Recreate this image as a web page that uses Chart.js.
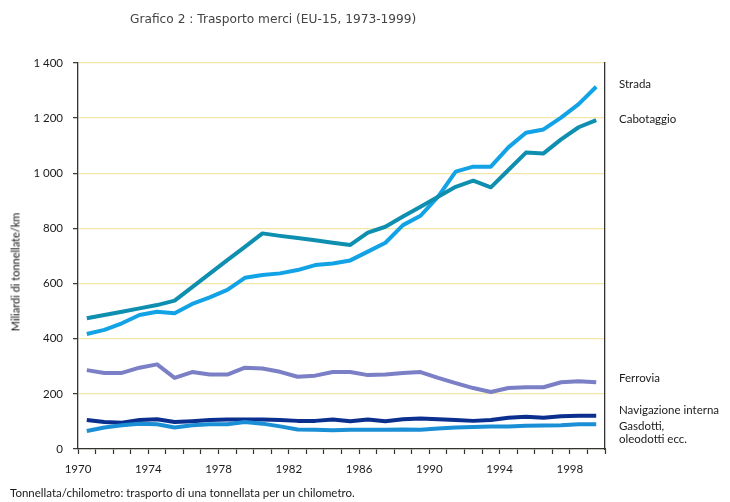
<!DOCTYPE html>
<html>
<head>
<meta charset="utf-8">
<script src="https://cdn.jsdelivr.net/npm/chart.js@4/dist/chart.umd.min.js"></script>
<style>
  html, body { margin: 0; padding: 0; background: #fff; }
  #wrap { position: relative; width: 730px; height: 502px; overflow: hidden; }
  #c { position: absolute; left: 0; top: 0; }
  .t { position: absolute; white-space: nowrap; color: #1a1a1a; font-family: Lato, "Liberation Sans", sans-serif; font-size: 11.5px; line-height: 13px; }
  #title { left: 130px; top: 13px; font-family: "DejaVu Sans", sans-serif; font-size: 12.2px; color: #444; }
  #ytitle { left: 15px; top: 272px; transform: translate(-50%, -50%) rotate(-90deg); font-size: 11px; color: #111; }
  #foot { left: 10px; top: 486px; }
</style>
</head>
<body>
<div id="wrap">
  <canvas id="c" width="730" height="502"></canvas>
  <div class="t" id="title">Grafico 2 : Trasporto merci (EU-15, 1973-1999)</div>
  <div class="t" id="ytitle">Miliardi di tonnellate/km</div>
  <div class="t" id="foot">Tonnellata/chilometro: trasporto di una tonnellata per un chilometro.</div>
  <div class="t" style="left:619px; top:77px;">Strada</div>
  <div class="t" style="left:619px; top:112px;">Cabotaggio</div>
  <div class="t" style="left:619px; top:371px;">Ferrovia</div>
  <div class="t" style="left:619px; top:403px;">Navigazione interna</div>
  <div class="t" style="left:619px; top:419px;">Gasdotti,<br>oleodotti ecc.</div>
</div>
<script>
const years = [1970,1971,1972,1973,1974,1975,1976,1977,1978,1979,1980,1981,1982,1983,1984,1985,1986,1987,1988,1989,1990,1991,1992,1993,1994,1995,1996,1997,1998,1999];
const strada = [417,432,456,486,498,492,526,550,577,621,631,637,649,667,673,684,716,748,812,846,915,1006,1024,1024,1094,1147,1159,1202,1251,1314];
const cabotaggio = [474,486,498,510,522,538,587,636,685,733,782,773,765,757,748,740,785,806,843,879,915,951,973,949,1012,1075,1072,1123,1167,1193];
const ferrovia = [286,276,276,295,307,258,279,270,270,295,292,280,262,266,279,279,268,270,276,279,258,239,221,207,221,224,224,242,246,242];
const navigazione = [105,98,95,105,108,98,101,105,107,107,107,105,102,102,107,101,107,101,108,111,108,105,102,105,113,117,113,119,121,121];
const gasdotti = [65,78,86,92,90,78,86,90,90,98,92,82,71,70,68,70,70,70,71,70,74,78,80,82,82,84,85,86,90,90];
const yTicks = [0,200,400,600,800,1000,1200,1400];
const xLabelYears = [1970,1974,1978,1982,1986,1990,1994,1998];

function pts(vals) { return years.map((y, i) => ({ x: y + 0.5, y: vals[i] })); }
function ds(label, vals, color) {
  return { label, data: pts(vals), borderColor: color, backgroundColor: color, borderWidth: 4,
           pointRadius: 0, tension: 0, fill: false, borderJoinStyle: 'round', borderCapStyle: 'butt' };
}
const fmt = v => v >= 1000 ? Math.floor(v/1000) + ' ' + String(v % 1000).padStart(3, '0') : String(v);
const tickFont = { family: 'Lato, "Liberation Sans", sans-serif', size: 11.5 };

new Chart(document.getElementById('c'), {
  type: 'line',
  data: { datasets: [
    ds('Gasdotti, oleodotti ecc.', gasdotti, '#1a8fd6'),
    ds('Navigazione interna', navigazione, '#0b2f8e'),
    ds('Ferrovia', ferrovia, '#7b7fc6'),
    ds('Cabotaggio', cabotaggio, '#0f8fb0'),
    ds('Strada', strada, '#12a2e6')
  ]},
  options: {
    responsive: false, animation: false, devicePixelRatio: 1,
    layout: { padding: { left: 0, right: 0, top: 63, bottom: 0 } },
    plugins: { legend: { display: false }, tooltip: { enabled: false }, title: { display: false } },
    scales: {
      x: {
        type: 'linear', min: 1970, max: 2000,
        afterFit: s => { s.height = 53; },
        afterBuildTicks: s => { const t = []; for (let v = 1970; v <= 2000; v++) t.push({ value: v }); s.ticks = t; },
        ticks: { autoSkip: false, maxRotation: 0, padding: 8, color: '#1a1a1a', font: tickFont,
                 callback: v => xLabelYears.includes(v) ? String(v) : '' },
        grid: { drawOnChartArea: false, drawTicks: true, tickLength: 5, tickColor: '#333', tickWidth: 1.2 },
        border: { display: true, color: '#333', width: 1.3 }
      },
      y: {
        min: 0, max: 1400,
        afterFit: s => { s.width = 78; },
        afterBuildTicks: s => { s.ticks = yTicks.map(v => ({ value: v })); },
        ticks: { padding: 10, color: '#1a1a1a', font: tickFont, callback: v => fmt(v) },
        grid: { color: '#f4e6a6', lineWidth: 1.3, drawTicks: true, tickLength: 5, tickColor: '#333', tickWidth: 1.2 },
        border: { display: true, color: '#333', width: 1.3 }
      },
      y2: {
        position: 'right', min: 0, max: 1400,
        afterFit: s => { s.width = 125; },
        ticks: { display: false },
        grid: { drawOnChartArea: false, drawTicks: false },
        border: { display: true, color: '#333', width: 1.3 }
      }
    }
  }
});
</script>
</body>
</html>
